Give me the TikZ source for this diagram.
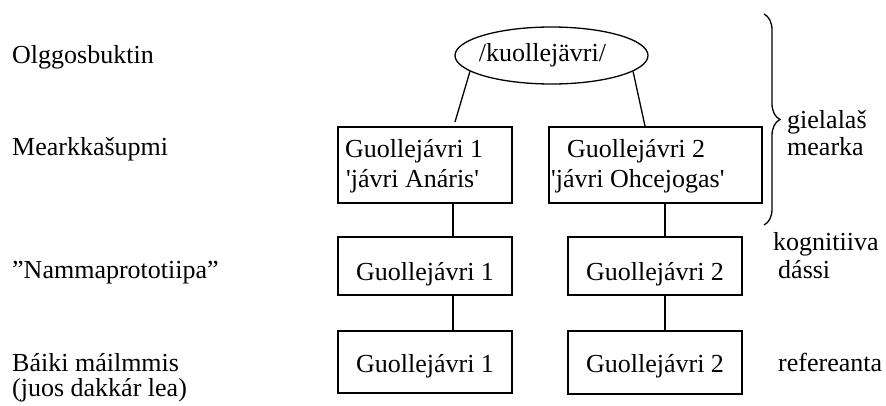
\documentclass[tikz,border=0pt]{standalone}
\usepackage{fontspec}
\setmainfont{Liberation Serif}[Ligatures=TeXOff]
\usetikzlibrary{shapes.geometric,decorations.pathreplacing}
\begin{document}
\begin{tikzpicture}[x=1pt,y=-1pt,
  font=\fontsize{26}{30}\selectfont,
  lbl/.style={anchor=base west, inner sep=0pt},
  frame/.style={draw, line width=1.3pt, inner sep=0pt},
  onebox/.style={frame, minimum width=174pt, anchor=base, inner xsep=0pt, inner ysep=0pt},
  conn/.style={line width=1.3pt}]
\useasboundingbox (0,0) rectangle (886,405);

% left labels
\node[lbl] (l1) at (12,63) {Olggosbuktin};
\node[lbl] (l2) at (12,155) {Mearkkašupmi};
\node[lbl] (l3) at (12,278) {”Nammaprototiipa”};
\node[lbl] (l4) at (12,371) {Báiki máilmmis};
\node[lbl] (l5) at (12,396) {(juos dakkár lea)};

% ellipse
\node[ellipse, draw, line width=1.3pt, minimum width=193pt, minimum height=57pt, inner sep=0pt] (e) at (551.5,55.5) {\hspace*{-18pt}/kuollejävri/};

% row 2 boxes
\node[frame, minimum width=174pt, minimum height=76pt] (b1) at (425,165) {};
\node[lbl] (b1a) at (345,157) {Guollejávri 1};
\node[lbl] (b1b) at (346,187) {'jávri Anáris'};
\node[frame, minimum width=213pt, minimum height=76pt] (b2) at (655.5,165) {};
\node[lbl] (b2a) at (567,157) {Guollejávri 2};
\node[lbl] (b2b) at (551,187) {'jávri Ohcejogas'};

% row 3 boxes
\node[onebox, text height=43pt, text depth=15pt] (c1) at (425,280) {Guollejávri 1};
\node[onebox, text height=43pt, text depth=15pt] (c2) at (655,280) {Guollejávri 2};

% row 4 boxes
\node[onebox, text height=41pt, text depth=21pt] (d1) at (425,372) {Guollejávri 1};
\node[onebox, text height=41pt, text depth=22pt] (d2) at (655,372) {Guollejávri 2};

% right labels
\node[lbl] (r1) at (787,128) {gielalaš};
\node[lbl] (r2) at (787,155) {mearka};
\node[lbl] (r3) at (773,250) {kognitiiva};
\node[lbl] (r4) at (778,278) {dássi};
\node[lbl] (r5) at (778,371) {refereanta};

% connectors
\coordinate (p1) at (455,122);
\coordinate (p2) at (645,126);
\draw[conn] (e.191) -- (p1);
\draw[conn] (e.349) -- (p2);
\coordinate (v1) at (453,0);
\coordinate (v2) at (665,0);
\draw[conn] (b1.south -| v1) -- (c1.north -| v1);
\draw[conn] (c1.south -| v1) -- (d1.north -| v1);
\draw[conn] (b2.south -| v2) -- (c2.north -| v2);
\draw[conn] (c2.south -| v2) -- (d2.north -| v2);

% brace
\coordinate (bt) at (764,14);
\coordinate (bb) at (764,225);
\draw[conn, decorate, decoration={brace, amplitude=16pt}] (bt) -- (bb);
\end{tikzpicture}
\end{document}
